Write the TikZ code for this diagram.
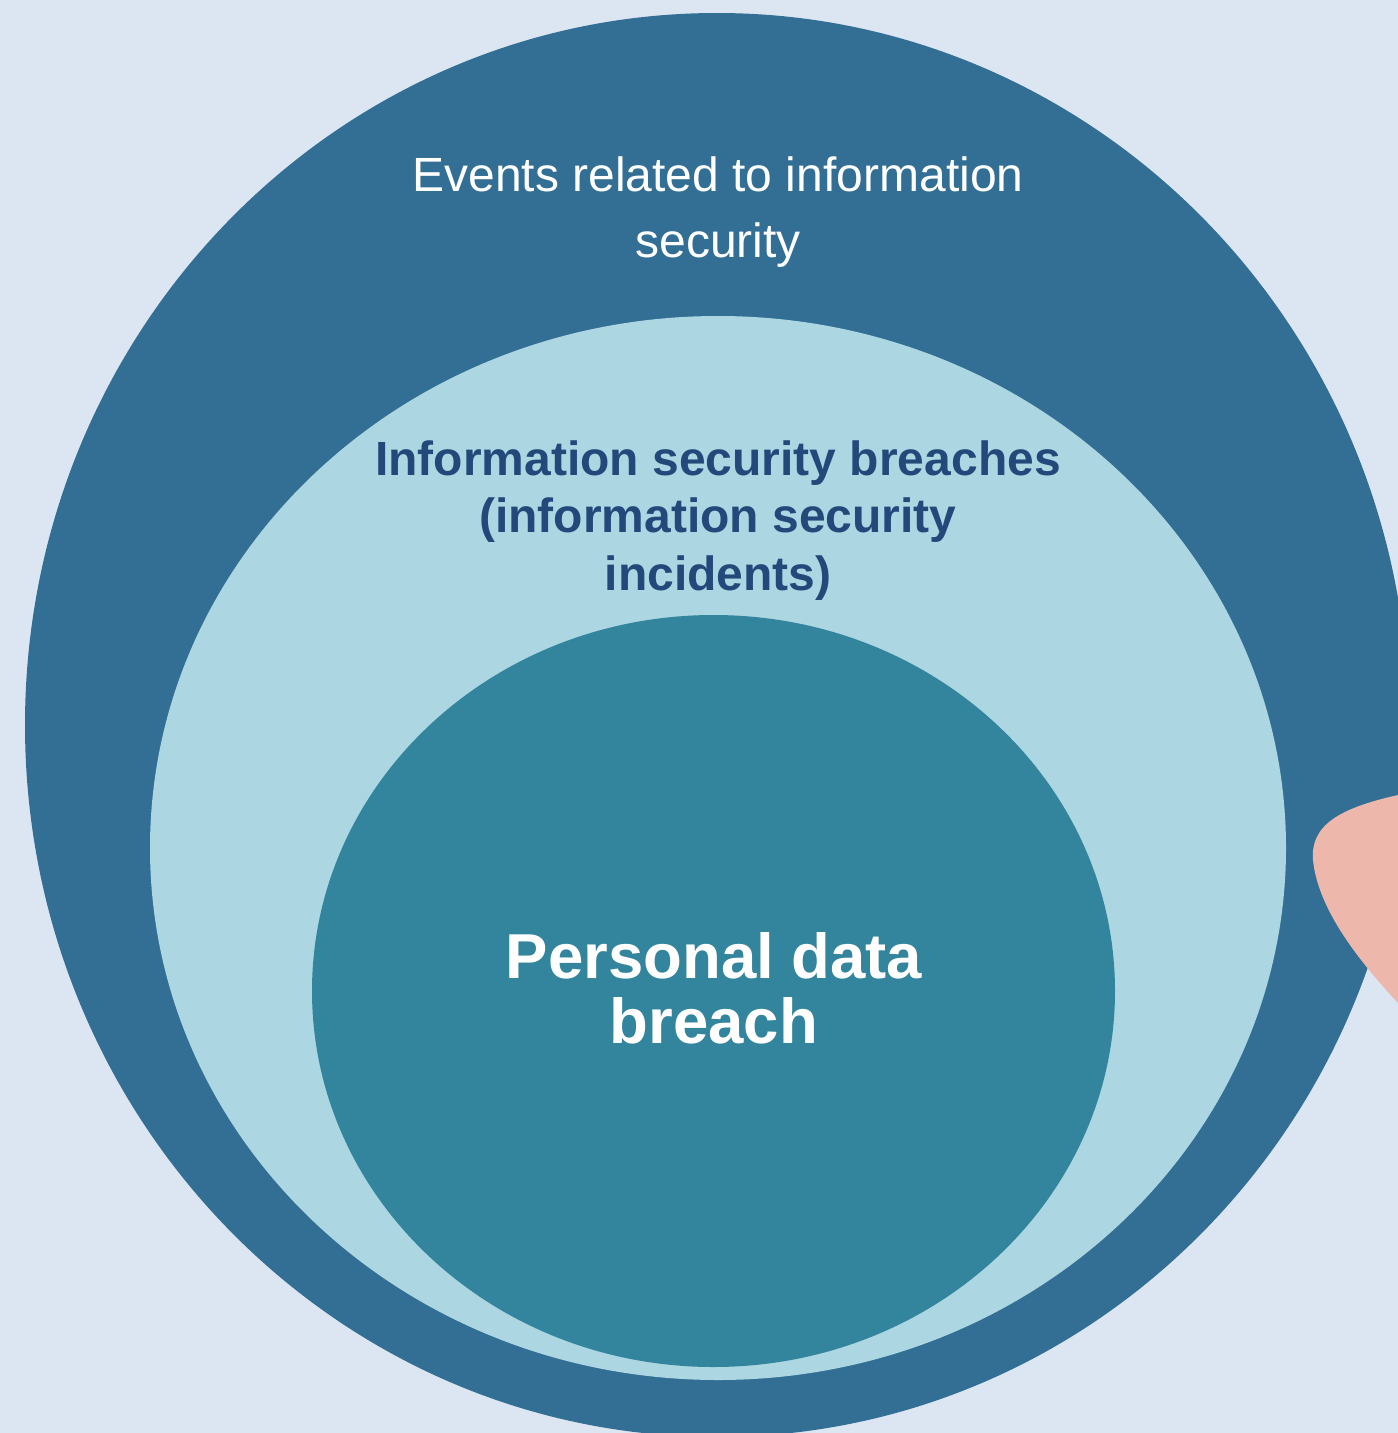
\documentclass[tikz,border=0pt]{standalone}
\usepackage{fontspec}
\setmainfont{Liberation Sans}
\definecolor{bgpale}{HTML}{DCE6F2}
\definecolor{outerblue}{HTML}{336F94}
\definecolor{midblue}{HTML}{ACD6E2}
\definecolor{innerteal}{HTML}{32859C}
\definecolor{blush}{HTML}{EDB7AB}
\definecolor{navytext}{HTML}{23497A}
\begin{document}
\begin{tikzpicture}[x=1pt,y=-1pt,
  label/.style={inner sep=0pt,outer sep=0pt,align=center,anchor=base}]
  % canvas
  \fill[bgpale] (0,0) rectangle (1398,1433);
  \useasboundingbox (0,0) rectangle (1398,1433);
  % nested sets
  \fill[outerblue] (717,725) ellipse [x radius=692, y radius=712];
  \fill[midblue] (718,848) ellipse [x radius=568, y radius=532];
  \fill[innerteal] (713.5,991) ellipse [x radius=401.5, y radius=376];
  % blob entering from the right edge
  \fill[blush] (1398,795) .. controls (1340,808) and (1310,825) .. (1313,860)
     .. controls (1318,910) and (1360,962) .. (1398,1003)
     -- (1420,1003) -- (1420,795) -- cycle;
  % captions (base anchor sits on the last line)
  \node[label,text=white,font=\fontsize{48}{66}\selectfont] (events) at (718,257)
    {Events related to information\\security};
  \node[label,text=navytext,font=\bfseries\fontsize{48}{57.5}\selectfont] (breaches) at (718,590)
    {Information security breaches\\(information security\\incidents)};
  \node[label,text=white,font=\bfseries\fontsize{63.5}{65}\selectfont] (personal) at (714,1043)
    {Personal data\\breach};
\end{tikzpicture}
\end{document}
